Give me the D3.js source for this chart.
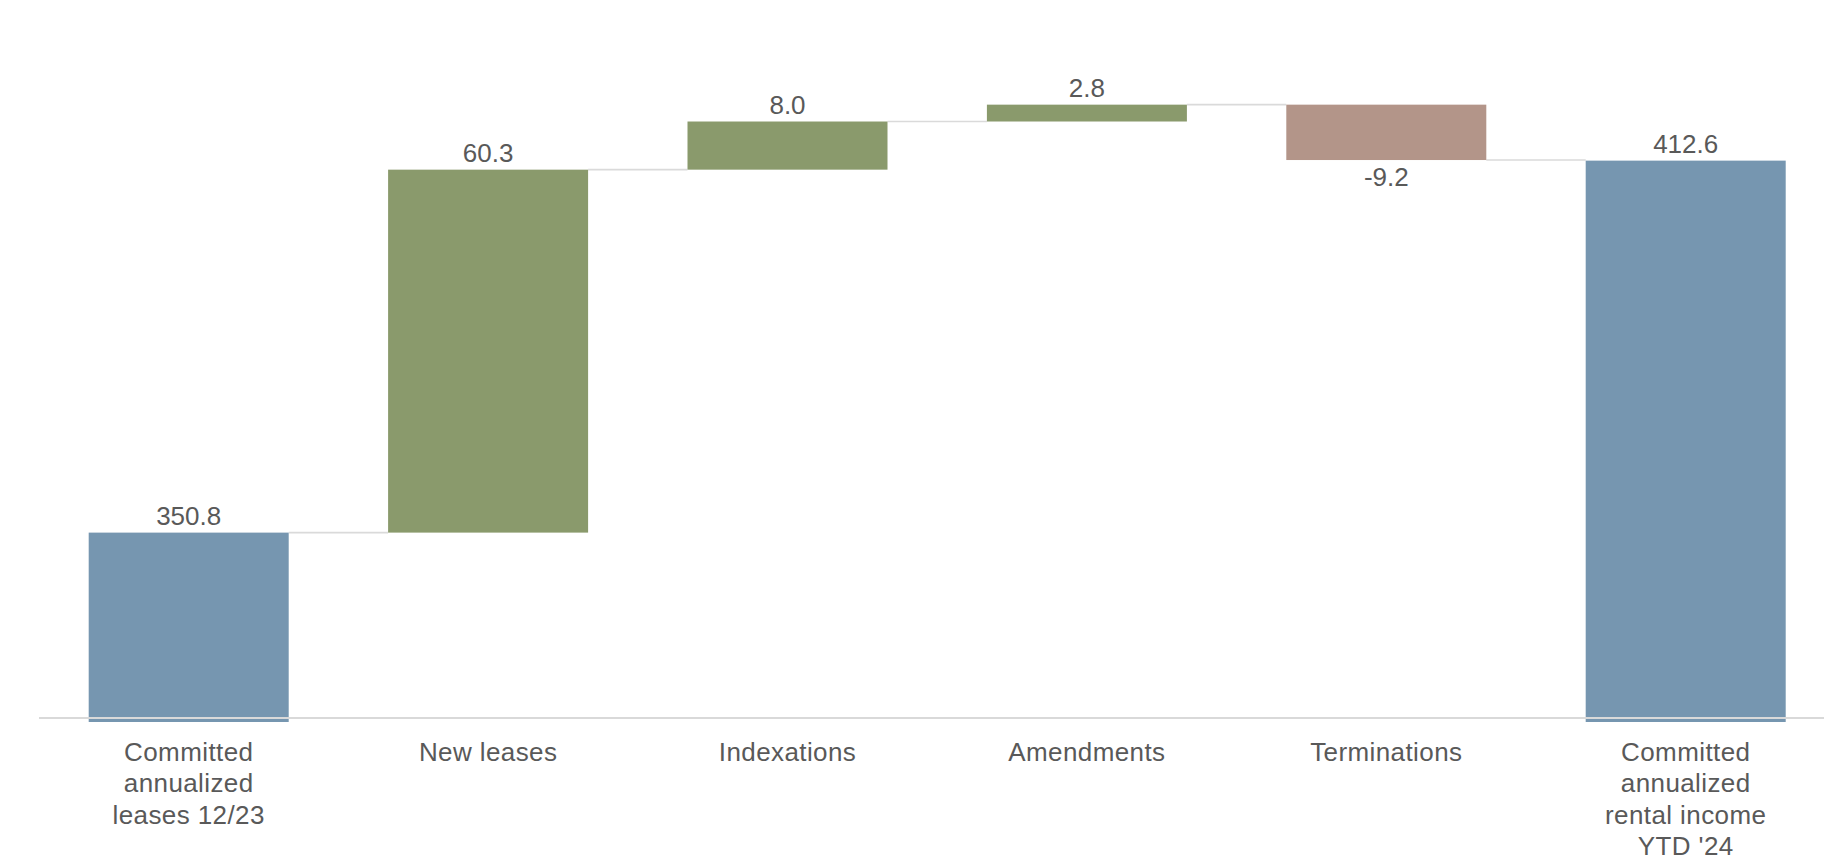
<!DOCTYPE html>
<html>
<head>
<meta charset="utf-8">
<script src="https://cdn.jsdelivr.net/npm/d3@7"></script>
<style>
  html, body { margin: 0; padding: 0; background: #ffffff; }
  svg { display: block; }
  text { font-family: "Liberation Sans", Arial, sans-serif; fill: #595959; }
</style>
</head>
<body>
<svg id="chart" width="1824" height="861"></svg>
<script>
// Rental income bridge: opening total, movements, closing total
const categories = [
  "Committed annualized leases 12/23",
  "New leases",
  "Indexations",
  "Amendments",
  "Terminations",
  "Committed annualized rental income YTD '24"
];
const categoryLines = [
  ["Committed", "annualized", "leases 12/23"],
  ["New leases"],
  ["Indexations"],
  ["Amendments"],
  ["Terminations"],
  ["Committed", "annualized", "rental income", "YTD '24"]
];
const values = [350.8, 60.3, 8.0, 2.8, -9.2, 412.6];
const barKinds = ["total", "delta", "delta", "delta", "delta", "total"];
const valueLabels = ["350.8", "60.3", "8.0", "2.8", "-9.2", "412.6"];

const colors = { total: "#7696b0", up: "#8a9a6c", down: "#b39589" };
const axisBase = 320;      // value where the broken axis sits
const overhang = 4;        // total bars run slightly past the axis line

const svg = d3.select("#chart");
const W = 1824;

const x = d3.scaleBand()
  .domain(categories)
  .range([39, 39 + 6 * 299.4])
  .paddingInner(0.332)
  .paddingOuter(0.166);

const y = d3.scaleLinear()
  .domain([axisBase, 430])
  .range([718, 55.9]);

// running totals for each step
let cum = 0;
const bars = categories.map((c, i) => {
  let start, end;
  if (barKinds[i] === "total") {
    start = axisBase; end = values[i]; cum = values[i];
  } else {
    start = cum; end = cum + values[i]; cum = end;
  }
  return { cat: c, i, start, end, value: values[i], kind: barKinds[i] };
});

// connectors between consecutive bars
const connectors = svg.append("g");
bars.slice(0, -1).forEach((b, i) => {
  const next = bars[i + 1];
  connectors.append("line")
    .attr("x1", x(b.cat) + x.bandwidth())
    .attr("x2", x(next.cat))
    .attr("y1", y(b.end))
    .attr("y2", y(b.end))
    .attr("stroke", "#dadada")
    .attr("stroke-width", 1.6);
});

// bars
svg.append("g").selectAll("rect")
  .data(bars)
  .join("rect")
  .attr("x", d => x(d.cat))
  .attr("width", x.bandwidth())
  .attr("y", d => y(Math.max(d.start, d.end)))
  .attr("height", d => {
    const h = Math.abs(y(d.start) - y(d.end));
    return d.kind === "total" ? h + overhang : h;
  })
  .attr("fill", d => d.kind === "total" ? colors.total : (d.value >= 0 ? colors.up : colors.down));

// baseline
svg.append("line")
  .attr("x1", 39).attr("x2", W)
  .attr("y1", y(axisBase)).attr("y2", y(axisBase))
  .attr("stroke", "#d9d9d9")
  .attr("stroke-width", 2);

// value labels
svg.append("g").selectAll("text")
  .data(bars)
  .join("text")
  .attr("x", d => x(d.cat) + x.bandwidth() / 2)
  .attr("y", d => d.value >= 0 ? y(Math.max(d.start, d.end)) - 7.5 : y(Math.min(d.start, d.end)) + 25.5)
  .attr("text-anchor", "middle")
  .style("font-size", "26px")
  .text((d, i) => valueLabels[i]);

// category labels
const cats = svg.append("g").selectAll("text")
  .data(bars)
  .join("text")
  .attr("text-anchor", "middle")
  .style("font-size", "26px")
  .style("letter-spacing", "0.4px")
  .attr("transform", d => `translate(${x(d.cat) + x.bandwidth() / 2},760.7)`);
cats.each(function(d) {
  d3.select(this).selectAll("tspan")
    .data(categoryLines[d.i])
    .join("tspan")
    .attr("x", 0)
    .attr("y", (t, k) => k * 31.5)
    .text(t => t);
});
</script>
</body>
</html>
